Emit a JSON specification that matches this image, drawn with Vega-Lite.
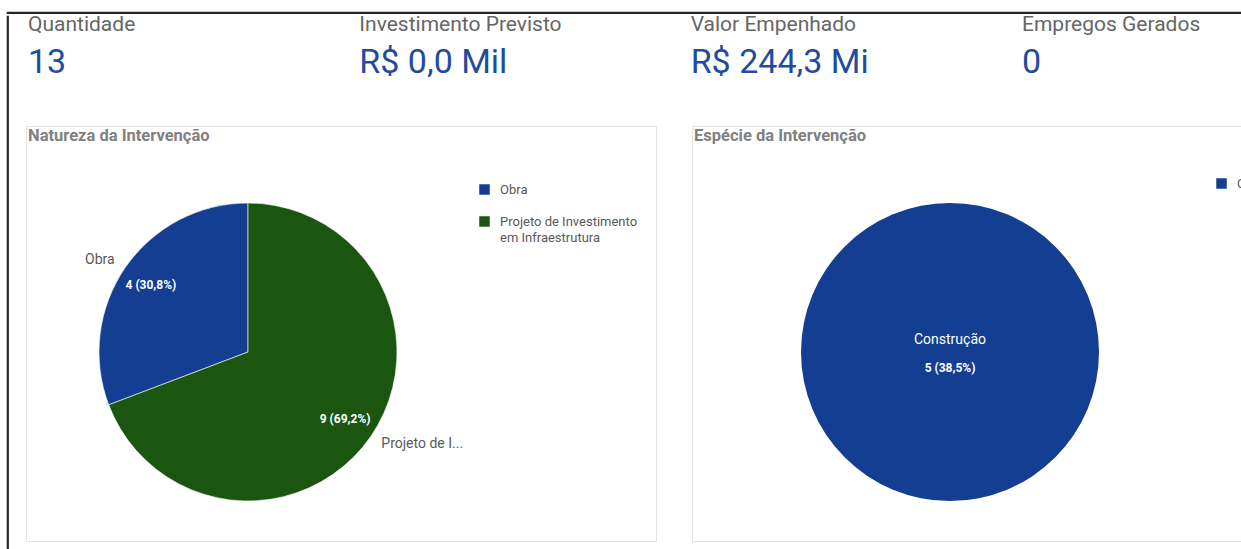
{
  "$schema": "https://vega.github.io/schema/vega-lite/v6.json",
  "background": "white",
  "padding": {"left": 6, "top": 11, "right": 0, "bottom": 0},
  "config": {
    "font": "Roboto",
    "view": {"stroke": null},
    "style": {"guide-label": {"lineHeight": 16}}
  },
  "datasets": {
    "kpi": [
      {"k": "Quantidade", "v": "13"},
      {"k": "Investimento Previsto", "v": "R$ 0,0 Mil"},
      {"k": "Valor Empenhado", "v": "R$ 244,3 Mi"},
      {"k": "Empregos Gerados", "v": "0"}
    ],
    "natureza": [
      {"cat": "Obra", "n": 4, "lbl": "4 (30,8%)"},
      {"cat": "Projeto de Investimento em Infraestrutura", "n": 9, "lbl": "9 (69,2%)"}
    ],
    "especie": [
      {"cat": "Construção", "n": 5, "lbl": "5 (38,5%)"}
    ],
    "empty": []
  },
  "spacing": 0,
  "vconcat": [
    {
      "width": 1300,
      "height": 1,
      "view": {"stroke": "#262626", "strokeWidth": 1.2},
      "data": {"name": "empty"},
      "mark": {"type": "text"},
      "encoding": {}
    },
    {
      "spacing": 16,
      "hconcat": [
        {
          "width": 1,
          "height": 600,
          "view": {"stroke": "#262626", "strokeWidth": 1.2},
          "data": {"name": "empty"},
          "mark": {"type": "text"},
          "encoding": {}
        },
        {
          "spacing": 29,
          "vconcat": [
            {
              "width": 994,
              "height": 80,
              "data": {"name": "kpi"},
              "encoding": {
                "x": {"field": "k", "type": "nominal", "sort": null, "axis": null,
                      "scale": {"type": "point", "padding": 0}}
              },
              "layer": [
                {
                  "mark": {"type": "text", "align": "left", "baseline": "alphabetic", "dx": 2, "dy": -25,
                           "fontSize": 21, "color": "#666666", "font": "Roboto"},
                  "encoding": {"text": {"field": "k"}}
                },
                {
                  "mark": {"type": "text", "align": "left", "baseline": "alphabetic", "dx": 2, "dy": 17,
                           "fontSize": 34, "color": "#1f4c9c", "font": "Roboto"},
                  "encoding": {"text": {"field": "v"}}
                }
              ]
            },
            {
              "spacing": 34,
              "resolve": {"scale": {"color": "independent"}, "legend": {"color": "independent"}},
              "hconcat": [
                {
                  "width": 630,
                  "height": 415,
                  "view": {"stroke": "#e3e3e3"},
                  "title": {"text": "Natureza da Intervenção", "anchor": "start", "offset": -18, "dx": 2,
                            "fontSize": 16.5, "fontWeight": "bold", "color": "#808080", "font": "Roboto"},
                  "data": {"name": "natureza"},
                  "encoding": {
                    "theta": {"field": "n", "type": "quantitative", "stack": true},
                    "order": {"field": "n", "sort": "descending"}
                  },
                  "layer": [
                    {
                      "mark": {"type": "arc", "outerRadius": 149, "xOffset": -93, "yOffset": 18.5,
                               "stroke": "#ffffff", "strokeWidth": 0.6},
                      "encoding": {
                        "color": {
                          "field": "cat", "type": "nominal",
                          "scale": {"domain": ["Obra", "Projeto de Investimento em Infraestrutura"],
                                    "range": ["#133e91", "#1b5611"]},
                          "legend": {
                            "orient": "none", "legendX": 452, "legendY": 57, "title": null,
                            "symbolType": "square", "symbolSize": 110, "symbolStrokeWidth": 0,
                            "labelFontSize": 13, "labelColor": "#595959", "labelFont": "Roboto",
                            "labelOffset": 9, "rowPadding": 18, "labelLimit": 300,
                            "labelExpr": "datum.label == 'Projeto de Investimento em Infraestrutura' ? ['Projeto de Investimento', 'em Infraestrutura'] : datum.label"
                          }
                        }
                      }
                    },
                    {
                      "mark": {"type": "text", "radius": 118, "xOffset": -93, "yOffset": 18.5,
                               "fontSize": 12, "fontWeight": "bold", "color": "#ffffff", "font": "Roboto"},
                      "encoding": {"text": {"field": "lbl"}}
                    },
                    {
                      "mark": {"type": "text", "radius": 162, "xOffset": -93, "yOffset": 18.5, "align": "right",
                               "fontSize": 14, "color": "#595959", "font": "Roboto"},
                      "encoding": {"text": {"condition": {"test": "datum.cat == 'Obra'", "field": "cat"}, "value": ""}}
                    },
                    {
                      "mark": {"type": "text", "radius": 162, "xOffset": -93, "yOffset": 18.5, "align": "left",
                               "fontSize": 14, "color": "#595959", "font": "Roboto", "limit": 86, "ellipsis": "..."},
                      "encoding": {"text": {"condition": {"test": "datum.cat != 'Obra'", "field": "cat"}, "value": ""}}
                    }
                  ]
                },
                {
                  "width": 630,
                  "height": 415,
                  "view": {"stroke": "#e3e3e3"},
                  "title": {"text": "Espécie da Intervenção", "anchor": "start", "offset": -18, "dx": 2,
                            "fontSize": 16.5, "fontWeight": "bold", "color": "#808080", "font": "Roboto"},
                  "data": {"name": "especie"},
                  "layer": [
                    {
                      "mark": {"type": "arc", "outerRadius": 149, "xOffset": -57, "yOffset": 18.5},
                      "encoding": {
                        "theta": {"field": "n", "type": "quantitative", "stack": true},
                        "color": {
                          "field": "cat", "type": "nominal",
                          "scale": {"domain": ["Construção"], "range": ["#133e91"]},
                          "legend": {
                            "orient": "none", "legendX": 523, "legendY": 51, "title": null,
                            "symbolType": "square", "symbolSize": 110, "symbolStrokeWidth": 0,
                            "labelFontSize": 13, "labelColor": "#595959", "labelFont": "Roboto",
                            "labelOffset": 9
                          }
                        }
                      }
                    },
                    {
                      "mark": {"type": "text", "xOffset": -57, "yOffset": 6.5,
                               "fontSize": 14, "color": "#ffffff", "font": "Roboto"},
                      "encoding": {"text": {"field": "cat"}}
                    },
                    {
                      "mark": {"type": "text", "xOffset": -57, "yOffset": 34.5,
                               "fontSize": 12, "fontWeight": "bold", "color": "#ffffff", "font": "Roboto"},
                      "encoding": {"text": {"field": "lbl"}}
                    }
                  ]
                }
              ]
            }
          ]
        }
      ]
    }
  ]
}
